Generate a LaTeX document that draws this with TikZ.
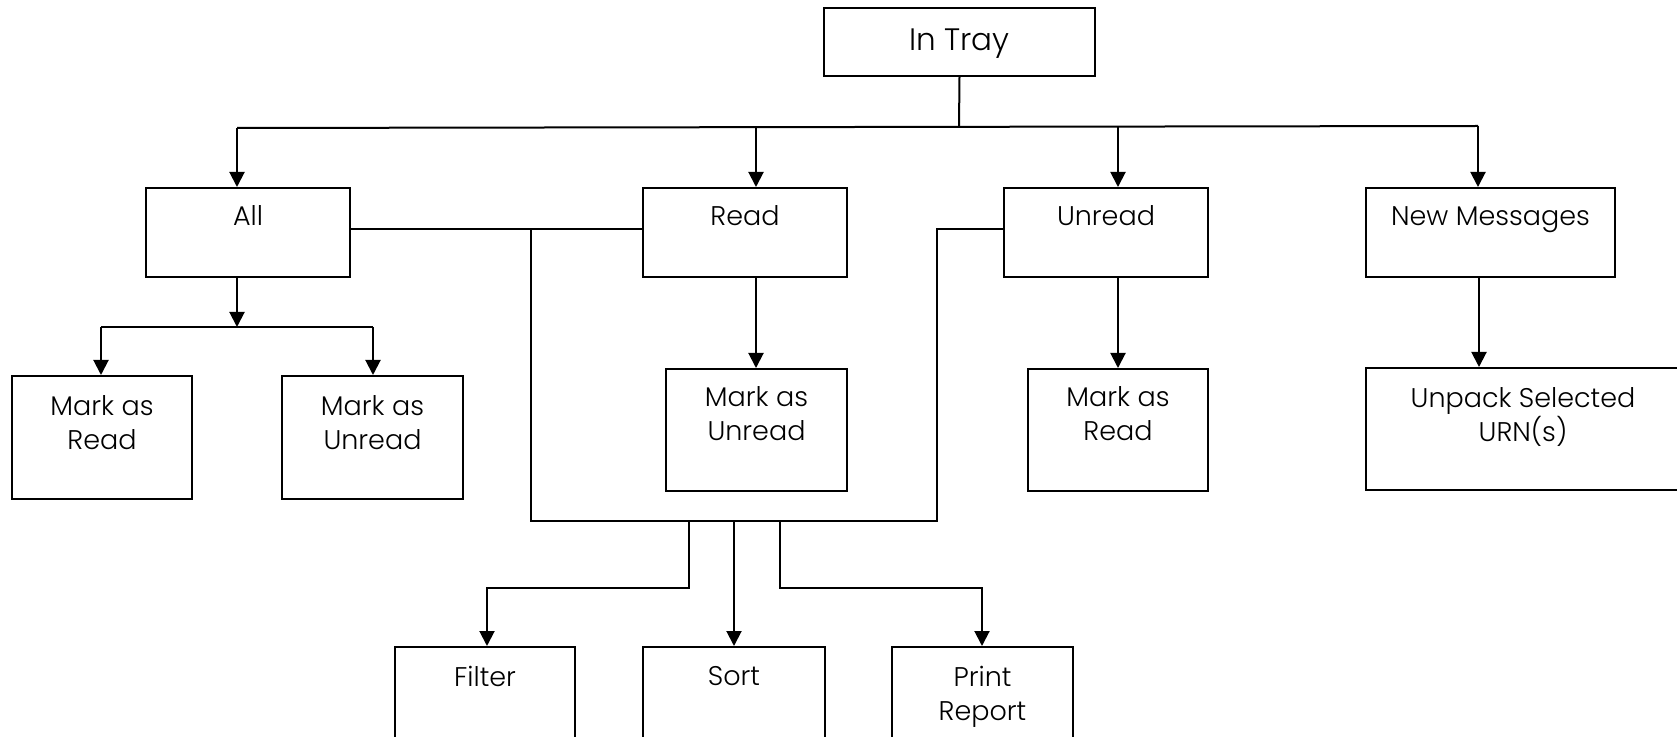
\documentclass[tikz,border=0pt]{standalone}
\usepackage{fontspec}
\setmainfont{Poppins Light}
\usetikzlibrary{arrows.meta}
\begin{document}
\begin{tikzpicture}[x=0.5pt,y=-0.5pt,
  box/.style={draw, line width=1pt, rectangle, inner sep=0pt},
  lbl/.style={font=\fontsize{13.5}{17}\selectfont, align=center, inner sep=0pt},
  conn/.style={line width=1pt},
  arr/.style={line width=1pt, -{Triangle[width=7.5pt,length=7.5pt]}}]
\useasboundingbox (0,0) rectangle (1677,737);
% boxes
\node[box, minimum width=135.5pt, minimum height=33.75pt] (intray) at (959.5,42) {};
\node[lbl, font=\fontsize{15.5}{19}\selectfont] at (959.5,44) {In Tray};
\node[box, minimum width=101.75pt, minimum height=44.5pt] (all) at (248,232.5) {};
\node[lbl] at (248,216) {All};
\node[box, minimum width=102pt, minimum height=44.5pt] (read) at (745,232.5) {};
\node[lbl] at (745,216) {Read};
\node[box, minimum width=102pt, minimum height=44.5pt] (unread) at (1106,232.5) {};
\node[lbl] at (1106,216) {Unread};
\node[box, minimum width=124.5pt, minimum height=44.5pt] (newmsg) at (1490.5,232.5) {};
\node[lbl] at (1490.5,220) {New Messages};
\node[box, minimum width=90.25pt, minimum height=61.5pt] (mar1) at (102,437.5) {};
\node[lbl] at (102,423) {Mark as\\Read};
\node[box, minimum width=90.5pt, minimum height=61.5pt] (mau1) at (372.5,437.5) {};
\node[lbl] at (372.5,423) {Mark as\\Unread};
\node[box, minimum width=90.5pt, minimum height=61pt] (mau2) at (756.5,430) {};
\node[lbl] at (756.5,413.5) {Mark as\\Unread};
\node[box, minimum width=90pt, minimum height=61pt] (mar2) at (1118,430) {};
\node[lbl] at (1118,413.5) {Mark as\\Read};
\node[box, minimum width=157pt, minimum height=61pt] (unpack) at (1523,429) {};
\node[lbl] at (1523,417.5) {Unpack Selected\\URN(s)};
\node[box, minimum width=90pt, minimum height=65pt] (filter) at (485,712) {};
\node[lbl] at (485,676) {Filter};
\node[box, minimum width=90.75pt, minimum height=65pt] (sort) at (734,712) {};
\node[lbl] at (734,676) {Sort};
\node[box, minimum width=90.5pt, minimum height=65pt] (print) at (982.5,712) {};
\node[lbl] at (982.5,697) {Print\\Report};
% junction coordinates
\coordinate (bus) at (959,127);
\coordinate (allbar) at (237,327);
\coordinate (jl) at (531,229);
\coordinate (jr) at (937,229);
\coordinate (bl) at (531,521);
\coordinate (br) at (937,521);
\coordinate (fs) at (689,521);
\coordinate (ss) at (734,521);
\coordinate (ps) at (780,521);
\coordinate (fm) at (689,588);
\coordinate (pm) at (780,588);
% top tree
\draw[conn] (intray.south) -- (bus);
\draw[conn] (237,128) -- (1478,126);
\draw[arr] (237,128) -- (all.north -| 237,0);
\draw[arr] (756,127) -- (read.north -| 756,0);
\draw[arr] (1118,126.5) -- (unread.north -| 1118,0);
\draw[arr] (1478,126) -- (newmsg.north -| 1478,0);
% All children
\draw[arr] (all.south -| allbar) -- (allbar);
\draw[conn] (101,327) -- (373,327);
\draw[arr] (101,327) -- (mar1.north -| 101,0);
\draw[arr] (373,327) -- (mau1.north -| 373,0);
% Read / Unread / New children
\draw[arr] (read.south -| 756,0) -- (mau2.north -| 756,0);
\draw[arr] (unread.south -| 1118,0) -- (mar2.north -| 1118,0);
\draw[arr] (newmsg.south -| 1479,0) -- (unpack.north -| 1479,0);
% shared tools
\draw[conn] (all.east |- jl) -- (read.west |- jl);
\draw[conn] (jl) -- (bl) -- (br) -- (jr) -- (unread.west |- jr);
\draw[arr] (fs) -- (fm) -- (487,588) -- (filter.north -| 487,0);
\draw[arr] (ss) -- (sort.north);
\draw[arr] (ps) -- (pm) -- (982,588) -- (print.north -| 982,0);
\end{tikzpicture}
\end{document}
